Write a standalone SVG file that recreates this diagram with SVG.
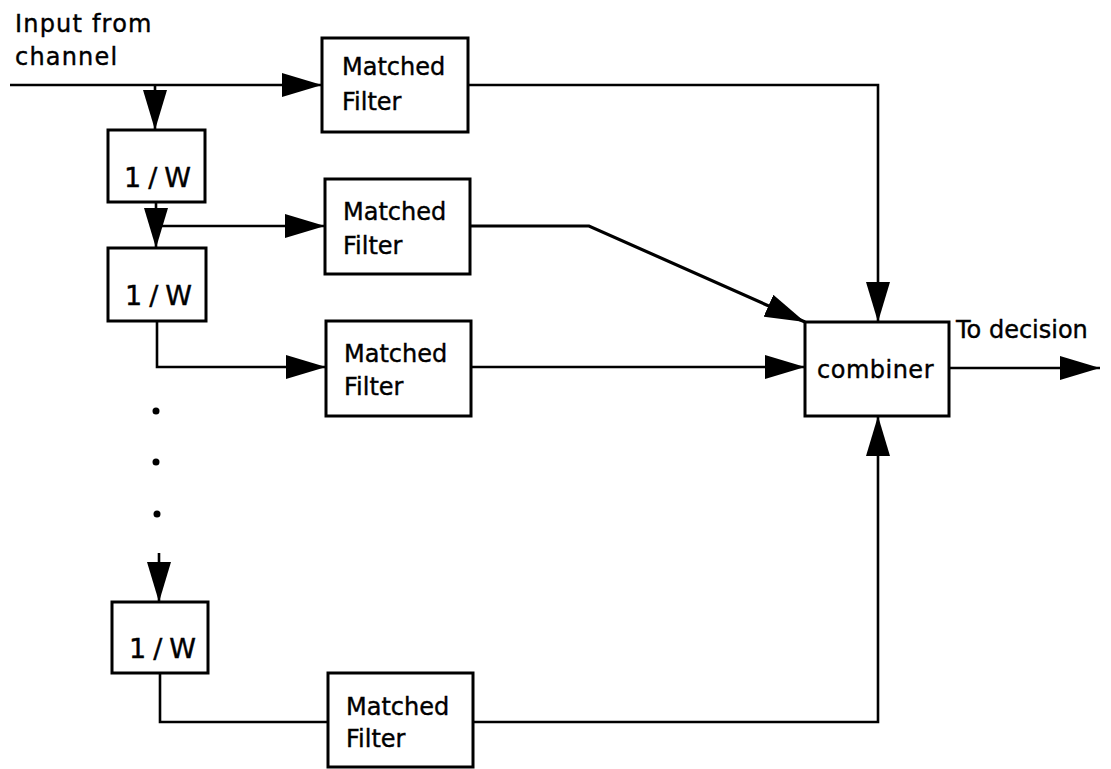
<svg xmlns="http://www.w3.org/2000/svg" width="1111" height="769" viewBox="0 0 1111 769">
<style>
.box{fill:#fff;stroke:#000;stroke-width:3}
.t{font-family:"DejaVu Sans",sans-serif;font-size:24px;fill:#000;stroke:#000;stroke-width:0.4}
.w{font-family:"DejaVu Sans",sans-serif;font-size:27px;fill:#000;stroke:#000;stroke-width:0.4;letter-spacing:7px}
.c{fill:none;stroke:#000;stroke-width:2.6}
</style>
<defs>
<marker id="ah" markerUnits="userSpaceOnUse" markerWidth="40" markerHeight="24" refX="40" refY="12" orient="auto">
<path d="M0,0 L40,12 L0,24 z" fill="#000"/>
</marker>
</defs>
<rect width="1111" height="769" fill="#fff"/>
<g id="connectors">
<path class="c" d="M10,85 L322,85" marker-end="url(#ah)"/>
<path class="c" d="M155,85 L155,130" marker-end="url(#ah)"/>
<path class="c" d="M156,202 L156,248" marker-end="url(#ah)"/>
<path class="c" d="M156,226 L325,226" marker-end="url(#ah)"/>
<path class="c" d="M157,321 L157,367 L326,367" marker-end="url(#ah)"/>
<path class="c" d="M159,553 L159,602" marker-end="url(#ah)"/>
<path class="c" d="M160,673 L160,722 L328,722"/>
<path class="c" d="M468,85 L878,85 L878,322" marker-end="url(#ah)"/>
<path class="c" style="stroke-width:3.2" d="M470,226 L589,226 L805,322" marker-end="url(#ah)"/>
<path class="c" d="M471,367 L805,367" marker-end="url(#ah)"/>
<path class="c" d="M473,722 L878,722 L878,416" marker-end="url(#ah)"/>
<path class="c" d="M949,368 L1100,368" marker-end="url(#ah)"/>
<circle cx="156" cy="411" r="3.5" fill="#000"/>
<circle cx="156" cy="462" r="3.5" fill="#000"/>
<circle cx="157" cy="514" r="3.5" fill="#000"/>
</g>
<g id="input-label">
<text class="t" x="15" y="32" style="letter-spacing:1.2px">Input from</text>
<text class="t" x="15" y="65" style="letter-spacing:1.2px">channel</text>
</g>
<g id="mf1">
<rect class="box" x="322" y="38" width="146" height="94"/>
<text class="t" x="342" y="75">Matched</text>
<text class="t" x="342" y="110">Filter</text>
</g>
<g id="mf2">
<rect class="box" x="325" y="179" width="145" height="95"/>
<text class="t" x="343" y="220">Matched</text>
<text class="t" x="343" y="254">Filter</text>
</g>
<g id="mf3">
<rect class="box" x="326" y="321" width="145" height="95"/>
<text class="t" x="344" y="362">Matched</text>
<text class="t" x="344" y="395">Filter</text>
</g>
<g id="mf4">
<rect class="box" x="328" y="673" width="145" height="94"/>
<text class="t" x="346" y="715">Matched</text>
<text class="t" x="346" y="747">Filter</text>
</g>
<g id="w1">
<rect class="box" x="108" y="130" width="97" height="72"/>
<text class="w" x="124" y="187">1/W</text>
</g>
<g id="w2">
<rect class="box" x="108" y="248" width="98" height="73"/>
<text class="w" x="125" y="305">1/W</text>
</g>
<g id="w3">
<rect class="box" x="112" y="602" width="96" height="71"/>
<text class="w" x="129" y="658">1/W</text>
</g>
<g id="combiner">
<rect class="box" x="805" y="322" width="144" height="94"/>
<text class="t" x="817" y="378" style="letter-spacing:0.5px">combiner</text>
</g>
<g id="output-label">
<text class="t" x="956" y="338">To decision</text>
</g>
</svg>
